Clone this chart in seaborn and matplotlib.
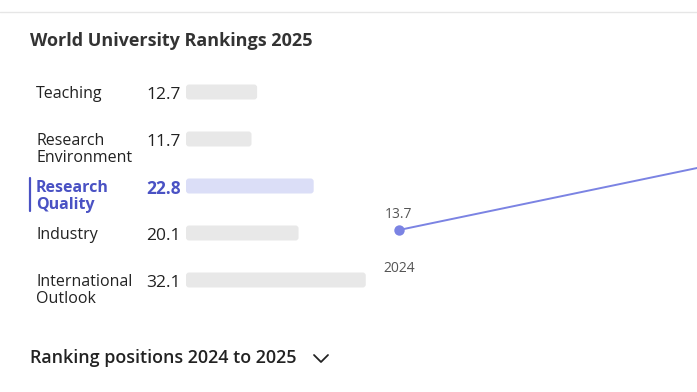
import matplotlib
matplotlib.use("Agg")
import matplotlib.pyplot as plt
import seaborn as sns
import pandas as pd
from matplotlib.lines import Line2D
from matplotlib.patches import FancyBboxPatch
from matplotlib.transforms import blended_transform_factory

# Datos
criteria = ["Teaching", "Research\nEnvironment", "Research\nQuality", "Industry",
            "International\nOutlook"]
scores = [12.7, 11.7, 22.8, 20.1, 32.1]
highlight = "Research\nQuality"
years = [2024, 2025]
rq_scores = [13.7, 22.8]

sns.set_theme(style="white")
plt.rcParams["font.family"] = ["Open Sans", "DejaVu Sans"]

W, H = 697, 392
fig = plt.figure(figsize=(W / 100, H / 100), dpi=100)


def box(l, t, r, b):
    return [l / W, 1 - b / H, (r - l) / W, (b - t) / H]


dark = "#222222"
accent = "#4a52c4"
grey_bar = "#e8e8e8"
hl_bar = "#d7dbfb"

# Barras horizontales
px_per_unit = 5.6
row_gap = 47
ax = fig.add_axes(box(186, 92 - row_gap / 2, 376, 280 + row_gap / 2))
df = pd.DataFrame({"criterion": criteria, "score": scores})
colors = {c: (hl_bar if c == highlight else grey_bar) for c in criteria}
sns.barplot(data=df, x="score", y="criterion", hue="criterion", palette=colors,
            orient="h", width=15 / row_gap, legend=False, ax=ax)
ax.set_xlim(0, 190 / px_per_unit)
ax.set_ylim(len(criteria) - 0.5, -0.5)
ax.axis("off")

# esquinas redondeadas
for p in list(ax.patches):
    x0, y0 = p.get_x(), p.get_y()
    w, h = p.get_width(), p.get_height()
    r = 3 / px_per_unit
    fb = FancyBboxPatch((x0, y0), w, h,
                        boxstyle=f"round,pad=0,rounding_size={r}",
                        mutation_aspect=px_per_unit / row_gap,
                        facecolor=p.get_facecolor(), edgecolor="none")
    p.remove()
    ax.add_patch(fb)

tr = blended_transform_factory(fig.transFigure, ax.transData)
for i, (c, s) in enumerate(zip(criteria, scores)):
    is_hl = c == highlight
    col = accent if is_hl else dark
    wt = "bold" if is_hl else "normal"
    ax.annotate(c, (36 / W, i), xycoords=tr, xytext=(0, 6), textcoords="offset pixels",
                ha="left", va="top", fontsize=11.5, color=col, fontweight=wt,
                linespacing=1.08)
    ax.annotate(f"{s:.1f}", (146 / W, i), xycoords=tr, xytext=(0, -3),
                textcoords="offset pixels", ha="left", va="center",
                fontsize=12.5, color=col, fontweight=wt)
    if is_hl:
        fig.add_artist(Line2D([30 / W, 30 / W], [1 - 178 / H, 1 - 211 / H],
                              color=accent, lw=1.6))

# Linea de tendencia (Research Quality); 2025 queda fuera del recorte
ax2 = fig.add_axes(box(399, 105, 1000, 230))
sns.lineplot(x=years, y=rq_scores, marker="o", markersize=7.5, color="#7b83e3",
             markeredgewidth=0, linewidth=1.4, ax=ax2)
ax2.set_xlim(years[0], years[-1])
ax2.set_ylim(min(rq_scores), max(rq_scores))
for ln in ax2.lines:
    ln.set_clip_on(False)
ax2.annotate(f"{rq_scores[0]}", (years[0], rq_scores[0]), xytext=(0, 16),
             textcoords="offset pixels", ha="center", va="center", fontsize=10,
             color="#555555")
ax2.annotate(str(years[0]), (years[0], rq_scores[0]), xytext=(0, -39),
             textcoords="offset pixels", ha="center", va="center", fontsize=10,
             color="#555555")
ax2.axis("off")

# Textos y decoracion
fig.add_artist(Line2D([0, 1], [1 - 12 / H] * 2, color="#e6e6e6", lw=1))
fig.text(30 / W, 1 - 41 / H, "World University Rankings 2025", ha="left", va="center",
         fontsize=13, fontweight="bold", color="#333333")
fig.text(30 / W, 1 - 358 / H, "Ranking positions 2024 to 2025", ha="left", va="center",
         fontsize=12.9, fontweight="semibold", color=dark)
fig.add_artist(Line2D([314 / W, 321 / W, 328 / W], [1 - 355 / H, 1 - 362 / H, 1 - 355 / H],
                      color=dark, lw=1.3))

fig.savefig("out.png", dpi=100)
